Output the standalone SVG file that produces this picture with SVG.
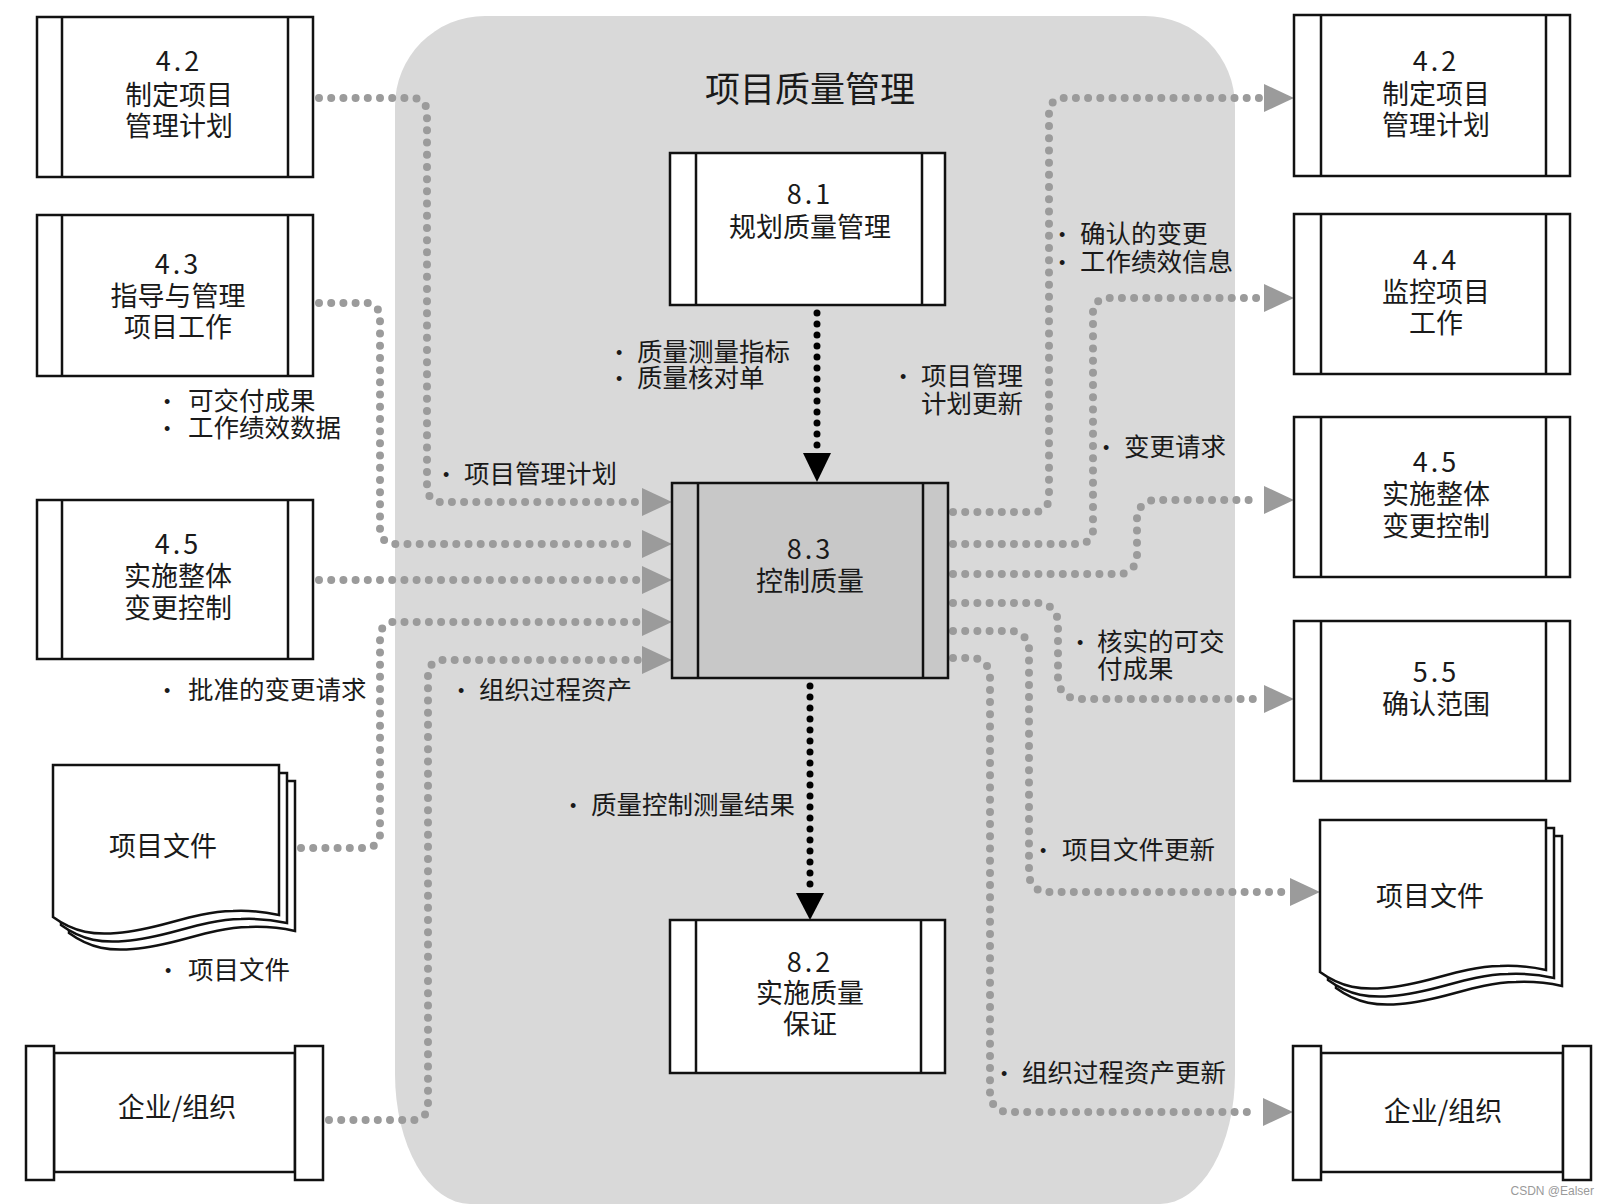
<svg xmlns="http://www.w3.org/2000/svg" width="1607" height="1204" viewBox="0 0 1607 1204">
<style>
.bx{fill:#fff;stroke:#111;stroke-width:2.5}
.bxg{fill:#c8c8c8;stroke:#111;stroke-width:2.5}
.ln{stroke:#111;stroke-width:2.5;fill:none}
.t{font-family:"Noto Sans CJK SC","Liberation Sans",sans-serif;font-size:27px;fill:#1a1a1a;text-anchor:middle;dominant-baseline:central}
.n{letter-spacing:3px}
.l{font-family:"Noto Sans CJK SC","Liberation Sans",sans-serif;font-size:25.5px;fill:#1a1a1a;dominant-baseline:central}
.b{font-family:"Liberation Sans",sans-serif;font-size:18px}
.title{font-family:"Noto Sans CJK SC","Liberation Sans",sans-serif;font-size:35px;fill:#1a1a1a;text-anchor:middle;dominant-baseline:central}
.gd{fill:none;stroke:#9b9b9b;stroke-width:8;stroke-linecap:round;stroke-dasharray:0 12.2}
.bd{fill:none;stroke:#000;stroke-width:7;stroke-linecap:round;stroke-dasharray:0 11}
.ga{fill:#9b9b9b}
.ba{fill:#000}
</style>
<defs>
<g id="doc">
<path class="bx" d="M53,765 H279 V915 C270,913 255,910 233,911 C190,912 160,930 117,933 C95,935 75,933 53,917 Z"/>
</g>
</defs>

<path id="region" d="M395,106 A90,90 0 0 1 485,16 H1145 A90,90 0 0 1 1235,106 V1074 A75,130 0 0 1 1160,1204 H470 A75,130 0 0 1 395,1074 Z" fill="#d9d9d9"/>
<text class="title" x="810" y="86">项目质量管理</text>

<g id="connectors">
<path class="gd" d="M319,98 H413 A14,14 0 0 1 427,112 V488 A14,14 0 0 0 441,502 H638"/>
<path class="gd" d="M319,303 H366 A14,14 0 0 1 380,317 V530 A14,14 0 0 0 394,544 H638"/>
<path class="gd" d="M319,580 H638"/>
<path class="gd" d="M301,848 H366 A14,14 0 0 0 380,834 V636 A14,14 0 0 1 394,622 H638"/>
<path class="gd" d="M329,1120 H414 A14,14 0 0 0 428,1106 V674 A14,14 0 0 1 442,660 H638"/>
<polygon class="ga" points="642,488 672,502 642,516"/>
<polygon class="ga" points="642,530 672,544 642,558"/>
<polygon class="ga" points="642,566 672,580 642,594"/>
<polygon class="ga" points="642,608 672,622 642,636"/>
<polygon class="ga" points="642,646 672,660 642,674"/>

<path class="gd" d="M953,512 H1035 A14,14 0 0 0 1049,498 V112 A14,14 0 0 1 1063,98 H1260"/>
<path class="gd" d="M953,544 H1079 A14,14 0 0 0 1093,530 V312 A14,14 0 0 1 1107,298 H1260"/>
<path class="gd" d="M953,574 H1119 A18,18 0 0 0 1137,556 V518 A18,18 0 0 1 1155,500 H1260"/>
<path class="gd" d="M953,603 H1038 A20,20 0 0 1 1058,623 V679 A20,20 0 0 0 1078,699 H1260"/>
<path class="gd" d="M953,631 H1011 A18,18 0 0 1 1029,649 V874 A18,18 0 0 0 1047,892 H1286"/>
<path class="gd" d="M953,658 H972 A18,18 0 0 1 990,676 V1094 A18,18 0 0 0 1008,1112 H1259"/>
<polygon class="ga" points="1264,84 1294,98 1264,112"/>
<polygon class="ga" points="1264,284 1294,298 1264,312"/>
<polygon class="ga" points="1264,486 1294,500 1264,514"/>
<polygon class="ga" points="1264,685 1294,699 1264,713"/>
<polygon class="ga" points="1290,878 1320,892 1290,906"/>
<polygon class="ga" points="1263,1098 1293,1112 1263,1126"/>

<path class="bd" d="M817,313 V449"/>
<polygon class="ba" points="803,453 831,453 817,482"/>
<path class="bd" d="M810,686 V888"/>
<polygon class="ba" points="796,893 824,893 810,920"/>
</g>

<g id="n-42-left">
<rect class="bx" x="37" y="17" width="276" height="160"/>
<path class="ln" d="M62,17 V177 M288,17 V177"/>
<text class="t"><tspan class="n" x="179" y="59">4.2</tspan><tspan x="179" y="93">制定项目</tspan><tspan x="179" y="124">管理计划</tspan></text>
</g>
<g id="n-43">
<rect class="bx" x="37" y="215" width="276" height="161"/>
<path class="ln" d="M62,215 V376 M288,215 V376"/>
<text class="t"><tspan class="n" x="178" y="262">4.3</tspan><tspan x="178" y="294">指导与管理</tspan><tspan x="178" y="325">项目工作</tspan></text>
</g>
<g id="n-45-left">
<rect class="bx" x="37" y="500" width="276" height="159"/>
<path class="ln" d="M62,500 V659 M288,500 V659"/>
<text class="t"><tspan class="n" x="178" y="542">4.5</tspan><tspan x="178" y="574">实施整体</tspan><tspan x="178" y="606">变更控制</tspan></text>
</g>
<g id="n-docs-left">
<use href="#doc" transform="translate(16,16)"/>
<use href="#doc" transform="translate(8,8)"/>
<use href="#doc"/>
<text class="t" x="163" y="844">项目文件</text>
</g>
<g id="n-org-left">
<rect class="bx" x="54" y="1053" width="241" height="119"/>
<rect class="bx" x="26" y="1046" width="28" height="134"/>
<rect class="bx" x="295" y="1046" width="28" height="134"/>
<text class="t" x="177" y="1105">企业/组织</text>
</g>

<g id="n-81">
<rect class="bx" x="670" y="153" width="275" height="152"/>
<path class="ln" d="M696,153 V305 M922,153 V305"/>
<text class="t"><tspan class="n" x="810" y="192">8.1</tspan><tspan x="810" y="225">规划质量管理</tspan></text>
</g>
<g id="n-83">
<rect class="bxg" x="672" y="483" width="276" height="195"/>
<path class="ln" d="M698,483 V678 M923,483 V678"/>
<text class="t"><tspan class="n" x="810" y="547">8.3</tspan><tspan x="810" y="579">控制质量</tspan></text>
</g>
<g id="n-82">
<rect class="bx" x="670" y="920" width="275" height="153"/>
<path class="ln" d="M696,920 V1073 M921,920 V1073"/>
<text class="t"><tspan class="n" x="810" y="960">8.2</tspan><tspan x="810" y="991">实施质量</tspan><tspan x="810" y="1022">保证</tspan></text>
</g>

<g id="n-42-right">
<rect class="bx" x="1294" y="15" width="276" height="161"/>
<path class="ln" d="M1321,15 V176 M1546,15 V176"/>
<text class="t"><tspan class="n" x="1436" y="59">4.2</tspan><tspan x="1436" y="92">制定项目</tspan><tspan x="1436" y="123">管理计划</tspan></text>
</g>
<g id="n-44">
<rect class="bx" x="1294" y="214" width="276" height="160"/>
<path class="ln" d="M1321,214 V374 M1546,214 V374"/>
<text class="t"><tspan class="n" x="1436" y="258">4.4</tspan><tspan x="1436" y="290">监控项目</tspan><tspan x="1436" y="321">工作</tspan></text>
</g>
<g id="n-45-right">
<rect class="bx" x="1294" y="417" width="276" height="160"/>
<path class="ln" d="M1321,417 V577 M1546,417 V577"/>
<text class="t"><tspan class="n" x="1436" y="460">4.5</tspan><tspan x="1436" y="492">实施整体</tspan><tspan x="1436" y="524">变更控制</tspan></text>
</g>
<g id="n-55">
<rect class="bx" x="1294" y="621" width="276" height="160"/>
<path class="ln" d="M1321,621 V781 M1546,621 V781"/>
<text class="t"><tspan class="n" x="1436" y="670">5.5</tspan><tspan x="1436" y="702">确认范围</tspan></text>
</g>
<g id="n-docs-right" transform="translate(1267,55)">
<use href="#doc" transform="translate(16,16)"/>
<use href="#doc" transform="translate(8,8)"/>
<use href="#doc"/>
<text class="t" x="163" y="839">项目文件</text>
</g>
<g id="n-org-right">
<rect class="bx" x="1321" y="1053" width="242" height="119"/>
<rect class="bx" x="1293" y="1046" width="28" height="134"/>
<rect class="bx" x="1563" y="1046" width="28" height="134"/>
<text class="t" x="1443" y="1109">企业/组织</text>
</g>

<g id="labels">
<text class="l"><tspan class="b" x="164" y="402">•</tspan><tspan x="188" y="398">可交付成果</tspan><tspan class="b" x="164" y="429">•</tspan><tspan x="188" y="425">工作绩效数据</tspan></text>
<text class="l"><tspan class="b" x="443" y="475">•</tspan><tspan x="464" y="471">项目管理计划</tspan></text>
<text class="l"><tspan class="b" x="164" y="691">•</tspan><tspan x="188" y="687">批准的变更请求</tspan></text>
<text class="l"><tspan class="b" x="458" y="691">•</tspan><tspan x="479" y="687">组织过程资产</tspan></text>
<text class="l"><tspan class="b" x="165" y="971">•</tspan><tspan x="188" y="967">项目文件</tspan></text>
<text class="l"><tspan class="b" x="616" y="353">•</tspan><tspan x="637" y="349">质量测量指标</tspan><tspan class="b" x="616" y="379">•</tspan><tspan x="637" y="375">质量核对单</tspan></text>
<text class="l"><tspan class="b" x="570" y="806">•</tspan><tspan x="591" y="802">质量控制测量结果</tspan></text>
<text class="l"><tspan class="b" x="900" y="377">•</tspan><tspan x="921" y="373">项目管理</tspan><tspan x="921" y="401">计划更新</tspan></text>
<text class="l"><tspan class="b" x="1059" y="235">•</tspan><tspan x="1080" y="231">确认的变更</tspan><tspan class="b" x="1059" y="263">•</tspan><tspan x="1080" y="259">工作绩效信息</tspan></text>
<text class="l"><tspan class="b" x="1103" y="448">•</tspan><tspan x="1124" y="444">变更请求</tspan></text>
<text class="l"><tspan class="b" x="1077" y="643">•</tspan><tspan x="1097" y="639">核实的可交</tspan><tspan x="1097" y="666">付成果</tspan></text>
<text class="l"><tspan class="b" x="1040" y="851">•</tspan><tspan x="1062" y="847">项目文件更新</tspan></text>
<text class="l"><tspan class="b" x="1001" y="1074">•</tspan><tspan x="1022" y="1070">组织过程资产更新</tspan></text>
</g>
<text x="1594" y="1195" font-family="Liberation Sans, sans-serif" font-size="12" fill="#9a9a9a" text-anchor="end">CSDN @Ealser</text>
</svg>
